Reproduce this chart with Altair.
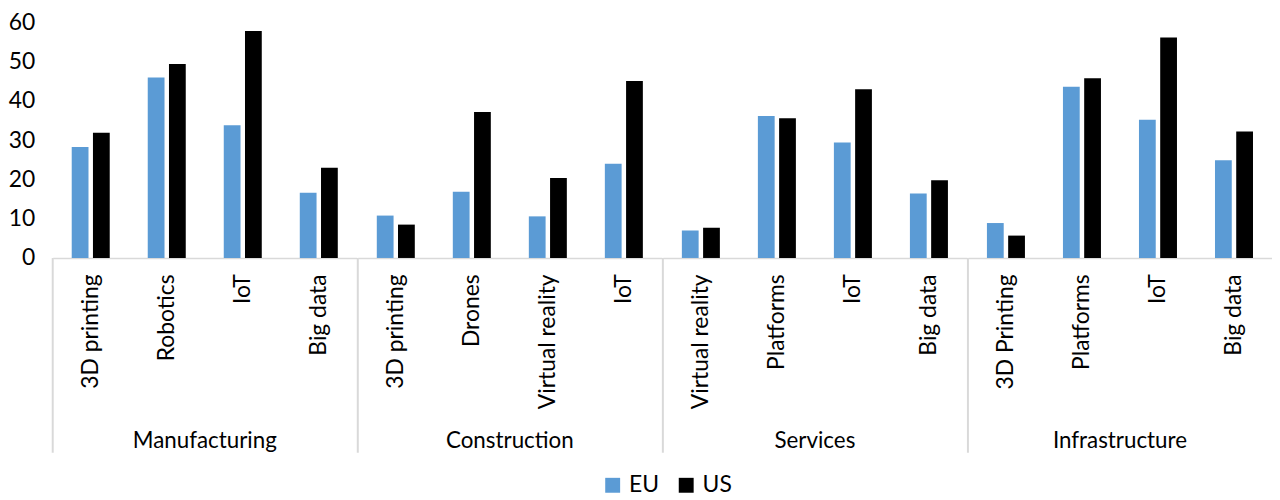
import altair as alt
import pandas as pd

groups = ["Manufacturing", "Construction", "Services", "Infrastructure"]
techs = [
    ["3D printing", "Robotics", "IoT", "Big data"],
    ["3D printing", "Drones", "Virtual reality", "IoT"],
    ["Virtual reality", "Platforms", "IoT", "Big data"],
    ["3D Printing", "Platforms", "IoT", "Big data"],
]
eu = [28.3, 46.0, 33.8, 16.6, 10.8, 16.9, 10.6, 24.0, 7.0, 36.2, 29.4, 16.4, 8.9, 43.6, 35.2, 24.9]
us = [31.9, 49.4, 57.8, 23.0, 8.5, 37.2, 20.4, 45.1, 7.7, 35.6, 43.0, 19.8, 5.7, 45.8, 56.2, 32.2]
series = ["EU", "US"]
colors = ["#5B9BD5", "#000000"]
y_ticks = [0, 10, 20, 30, 40, 50, 60]

rows = []
k = 0
for gi, g in enumerate(groups):
    for ti, t in enumerate(techs[gi]):
        for s, vals in zip(series, [eu, us]):
            rows.append({"group": g, "tech": t, "pos": ti, "series": s, "value": vals[k]})
        k += 1
df = pd.DataFrame(rows)

FONT = "Lato"
FS = 23
W, H = 306, 237

base = alt.Chart()

bars = base.mark_bar().encode(
    x=alt.X("tech:N", sort=alt.EncodingSortField(field="pos", op="min"),
            scale=alt.Scale(paddingInner=0.5, paddingOuter=0.25),
            axis=alt.Axis(title=None, labelAngle=270, ticks=False, tickSize=0, labelPadding=16,
                          domainColor="#d9d9d9", domainWidth=1.5, labelFontSize=FS,
                          labelFont=FONT, labelColor="#000000")),
    xOffset=alt.XOffset("series:N", sort=series,
                        scale=alt.Scale(paddingInner=0.21, paddingOuter=0)),
    y=alt.Y("value:Q", scale=alt.Scale(domain=[0, 60], nice=False),
            axis=alt.Axis(title=None, values=y_ticks, grid=False, domain=False, ticks=False,
                          tickSize=0, labelPadding=17, labelFontSize=FS, labelFont=FONT,
                          labelColor="#000000")),
    color=alt.Color("series:N", sort=series,
                    scale=alt.Scale(domain=series, range=colors),
                    legend=alt.Legend(title=None, orient="none", direction="horizontal",
                                      legendX=552, legendY=454, symbolType="square",
                                      symbolSize=225, symbolStrokeWidth=0,
                                      labelFontSize=FS, labelFont=FONT,
                                      labelColor="#000000", labelOffset=5,
                                      columnPadding=15)),
)

sep = base.transform_filter(
    (alt.datum.pos == 0) & (alt.datum.series == "EU")
).mark_rule(color="#d9d9d9", strokeWidth=2).encode(
    x=alt.value(0), y=alt.value(H), y2=alt.value(H + 196)
)

chart = alt.layer(bars, sep, data=df).properties(width=W, height=H).facet(
    column=alt.Column("group:N", sort=groups,
                      header=alt.Header(title=None, orient="bottom", labelFontSize=22.5,
                                        labelFont=FONT, labelColor="#000000",
                                        labelPadding=-24)),
    spacing=0,
).resolve_scale(x="independent", xOffset="independent").properties(
    padding={"left": 0, "top": 2, "right": 0, "bottom": 0}
).configure(font=FONT).configure_view(stroke=None)

chart.save("out.html", embed_options={"renderer": "svg", "actions": False})
